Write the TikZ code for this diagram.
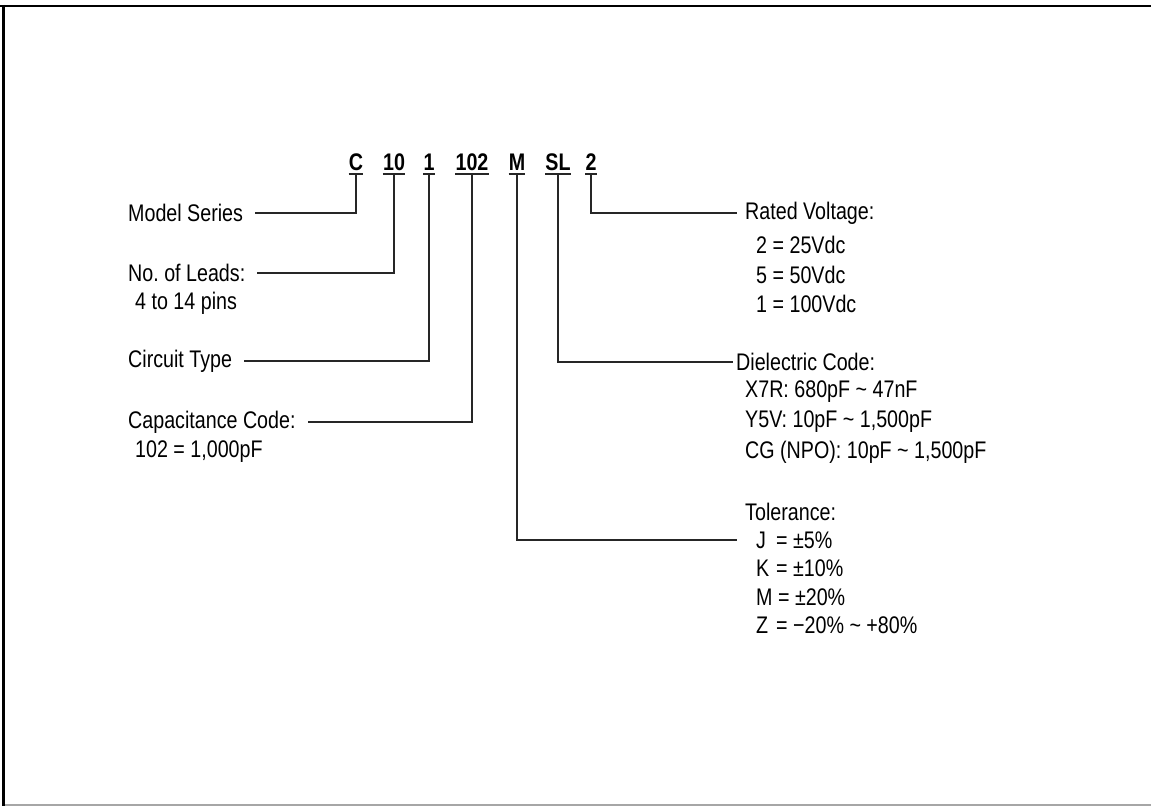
\documentclass[tikz,border=0pt]{standalone}
\usepackage{fontspec}
\setmainfont{Liberation Sans}[FakeStretch=0.82]
\begin{document}
\begin{tikzpicture}[x=1pt,y=-1pt,
  lbl/.style={font=\fontsize{24pt}{30pt}\selectfont, inner ysep=0pt, anchor=west},
  llbl/.style={lbl, inner xsep=12pt},
  rlbl/.style={lbl, inner xsep=8pt},
  code/.style={font=\fontsize{24pt}{30pt}\selectfont\bfseries, inner sep=0pt, anchor=base},
  conn/.style={line width=1.1pt, black!85},
  tick/.style={line width=1.1pt, black!85}]
\useasboundingbox (0,0) rectangle (1151,806);
\fill[white] (0,0) rectangle (1151,806);
% frame
\draw[line width=2.5pt] (0,6) -- (1151,6);
\draw[line width=3pt] (3.5,4.75) -- (3.5,806);
\draw[line width=1.5pt, black!35] (5,805) -- (1151,805);
% code
\node[code] (cC)  at (356,170) {C};
\node[code] (c10) at (394,170) {10};
\node[code] (c1)  at (429,170) {1};
\node[code] (c102) at (472,170) {102};
\node[code] (cM)  at (517,170) {M};
\node[code] (cSL) at (558,170) {SL};
\node[code] (c2)  at (591,170) {2};
\foreach \n in {cC,c10,c1,c102,cM,cSL,c2}{
  \draw[tick] ([yshift=-4pt]\n.base west) -- ([yshift=-4pt]\n.base east);
}
% left labels
\node[llbl] (ms)  at (116,213) {Model Series};
\node[llbl] (nl)  at (116,273) {No.\ of Leads:};
\node[llbl] (nl2) at (123,303) {4 to 14 pins};
\node[llbl] (ct)  at (116,361) {Circuit Type};
\node[llbl] (cc)  at (116,422) {Capacitance Code:};
\node[llbl] (cc2) at (123,452) {102 = 1,000pF};
% right labels
\node[rlbl] (rv)  at (737,213) {Rated Voltage:};
\node[rlbl] (rv1) at (748,245) {2 = 25Vdc};
\node[rlbl] (rv2) at (748,275) {5 = 50Vdc};
\node[rlbl] (rv3) at (748,304) {1 = 100Vdc};
\node[lbl, inner xsep=3pt] (dc)  at (733,362) {Dielectric Code:};
\node[rlbl] (dc1) at (737,392) {X7R: 680pF \textasciitilde{} 47nF};
\node[rlbl] (dc2) at (737,422) {Y5V: 10pF \textasciitilde{} 1,500pF};
\node[rlbl] (dc3) at (737,452) {CG (NPO): 10pF \textasciitilde{} 1,500pF};
\node[rlbl] (tol) at (737,512) {Tolerance:};
\node[rlbl] (tJ)  at (748,540) {\makebox[20pt][l]{J}= ±5\%};
\node[rlbl] (tK)  at (748,568) {\makebox[20pt][l]{K}= ±10\%};
\node[rlbl] (tM)  at (748,597) {M = ±20\%};
\node[rlbl] (tZ)  at (748,625) {\makebox[20pt][l]{Z}= −20\% \textasciitilde{} +80\%};
% connectors
\draw[conn] ([yshift=-4pt]cC.base) |- (ms.east);
\draw[conn] ([yshift=-4pt]c10.base) |- (nl.east);
\draw[conn] ([yshift=-4pt]c1.base) |- (ct.east);
\draw[conn] ([yshift=-4pt]c102.base) |- (cc.east);
\draw[conn] ([yshift=-4pt]cM.base) |- (tol.west |- tJ.west);
\draw[conn] ([yshift=-4pt]cSL.base) |- (dc.west);
\draw[conn] ([yshift=-4pt]c2.base) |- (rv.west);
\end{tikzpicture}
\end{document}
